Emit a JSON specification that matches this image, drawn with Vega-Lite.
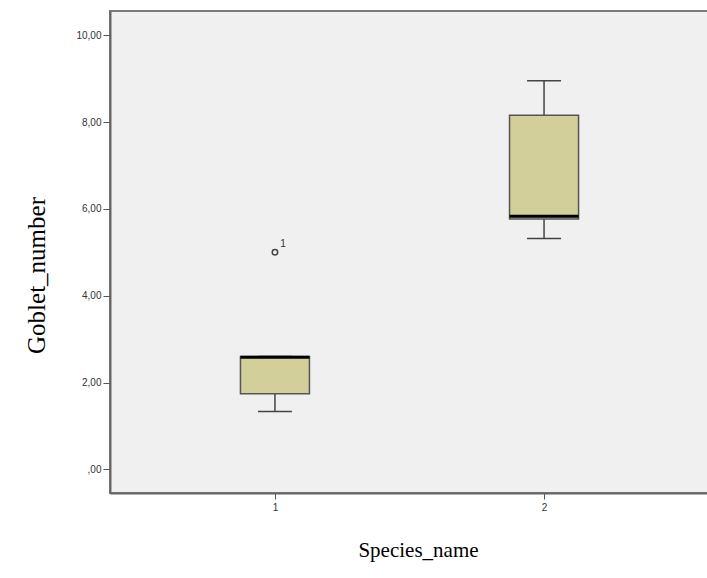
{
  "$schema": "https://vega.github.io/schema/vega-lite/v6.json",
  "width": 599,
  "height": 482,
  "autosize": {"type": "none"},
  "padding": {"left": 110, "top": 11, "right": 0, "bottom": 85},
  "background": "#ffffff",
  "view": {"fill": "#f0f0f0", "stroke": "#7a7a7a", "strokeWidth": 2},
  "datasets": {
    "stats": [
      {"Species_name": "1", "lower": 1.33, "q1": 1.74, "median": 2.58, "q3": 2.6, "upper": 2.6},
      {"Species_name": "2", "lower": 5.32, "q1": 5.77, "median": 5.83, "q3": 8.16, "upper": 8.95}
    ],
    "outliers": [
      {"Species_name": "1", "Goblet_number": 5.0, "case": "1"}
    ]
  },
  "encoding": {
    "x": {
      "field": "Species_name",
      "type": "ordinal",
      "scale": {"type": "point", "padding": 0.613},
      "axis": {
        "title": "Species_name",
        "titleFont": "Liberation Serif",
        "titleFontSize": 21,
        "titleFontWeight": "normal",
        "titleColor": "#000000",
        "titleX": 308,
        "titleY": 57,
        "titleBaseline": "middle",
        "labelFont": "Liberation Sans",
        "labelFontSize": 10,
        "labelColor": "#333333",
        "labelAngle": 0,
        "labelPadding": 3,
        "tickColor": "#555555",
        "tickSize": 6,
        "domainColor": "#666666",
        "domainWidth": 2
      }
    }
  },
  "layer": [
    {
      "data": {"name": "stats"},
      "mark": {"type": "rule", "color": "#444444", "strokeWidth": 1.5, "opacity": 1},
      "encoding": {
        "y": {
          "field": "lower",
          "type": "quantitative",
          "scale": {"domain": [-0.546, 10.56], "nice": false, "zero": false},
          "axis": {
            "title": "Goblet_number",
            "titleFont": "Liberation Serif",
            "titleFontSize": 25,
            "titleFontWeight": "normal",
            "titleColor": "#000000",
            "titleX": -74,
            "titleY": 264,
            "titleBaseline": "middle",
            "values": [0, 2, 4, 6, 8, 10],
            "labelExpr": "datum.value == 0 ? ',00' : replace(format(datum.value, '.2f'), '.', ',')",
            "labelFont": "Liberation Sans",
            "labelFontSize": 10,
            "labelColor": "#333333",
            "labelPadding": 2,
            "tickColor": "#555555",
            "tickSize": 7,
            "domainColor": "#666666",
            "domainWidth": 2,
            "grid": false
          }
        },
        "y2": {"field": "upper"}
      }
    },
    {
      "data": {"name": "stats"},
      "mark": {"type": "bar", "width": 69, "fill": "#d3cf9a", "stroke": "#555555", "strokeWidth": 1.5, "opacity": 1},
      "encoding": {
        "y": {"field": "q1", "type": "quantitative"},
        "y2": {"field": "q3"}
      }
    },
    {
      "data": {"name": "stats"},
      "mark": {"type": "tick", "size": 34, "thickness": 1.5, "color": "#444444", "orient": "horizontal", "opacity": 1},
      "encoding": {
        "y": {"field": "lower", "type": "quantitative"}
      }
    },
    {
      "data": {"name": "stats"},
      "mark": {"type": "tick", "size": 34, "thickness": 1.5, "color": "#444444", "orient": "horizontal", "opacity": 1},
      "encoding": {
        "y": {"field": "upper", "type": "quantitative"}
      }
    },
    {
      "data": {"name": "stats"},
      "mark": {"type": "tick", "size": 69, "thickness": 3, "color": "#000000", "orient": "horizontal", "opacity": 1},
      "encoding": {
        "y": {"field": "median", "type": "quantitative"}
      }
    },
    {
      "data": {"name": "outliers"},
      "mark": {"type": "point", "shape": "circle", "filled": false, "size": 30, "stroke": "#444444", "strokeWidth": 1.5, "opacity": 1},
      "encoding": {
        "y": {"field": "Goblet_number", "type": "quantitative"}
      }
    },
    {
      "data": {"name": "outliers"},
      "mark": {"type": "text", "dx": 8, "dy": -8, "fontSize": 10, "font": "Liberation Sans", "color": "#333333"},
      "encoding": {
        "y": {"field": "Goblet_number", "type": "quantitative"},
        "text": {"field": "case"}
      }
    }
  ]
}
